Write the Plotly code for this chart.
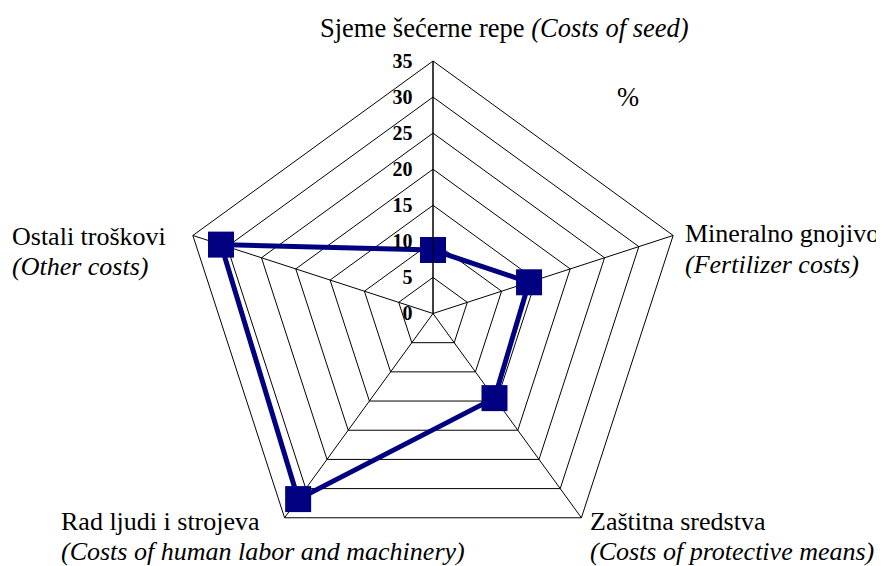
import plotly.graph_objects as go

categories = ["Sjeme šećerne repe", "Mineralno gnojivo", "Zaštitna sredstva",
              "Rad ljudi i strojeva", "Ostali troškovi"]
values = [8.8, 14.0, 14.5, 31.8, 30.9]
tick_vals = [0, 5, 10, 15, 20, 25, 30, 35]
tick_text = ["0", "5", "10", "15", "20", "25", "30", "35"]

# page has an 8px body margin, so the figure is sized to fit the 884x566 window
W, H = 876, 558
FONT = "Liberation Serif, Times New Roman, serif"

fig = go.Figure()
fig.add_trace(go.Scatterpolar(
    r=values + values[:1],
    theta=categories + categories[:1],
    mode="lines+markers",
    line=dict(color="#000080", width=5),
    marker=dict(symbol="square", size=26, color="#000080"),
    showlegend=False,
))

fig.update_layout(
    width=W, height=H,
    margin=dict(l=0, r=0, t=0, b=0),
    paper_bgcolor="white",
    plot_bgcolor="white",
    font=dict(family=FONT, color="black"),
    polar=dict(
        domain=dict(x=[172 / W, 678 / W], y=[0, 505 / H]),
        bgcolor="white",
        gridshape="linear",
        radialaxis=dict(
            range=[0, 35], tickvals=tick_vals, ticktext=tick_text,
            angle=90, tickangle=90, side="counterclockwise",
            showline=True, linecolor="black", linewidth=1,
            gridcolor="black", gridwidth=1,
            ticks="outside", ticklen=13, tickcolor="rgba(0,0,0,0)",
            tickfont=dict(family=FONT, size=20, color="black", weight="bold"),
        ),
        angularaxis=dict(
            rotation=90, direction="clockwise",
            showticklabels=False, ticks="",
            showline=True, linecolor="black", linewidth=1,
            gridcolor="black", gridwidth=1,
        ),
    ),
)

def txt(text, x, y, size=26):
    # x, y: reference-window pixels (left edge, line centre)
    fig.add_annotation(text=text, x=(x - 10) / W, y=1 - (y - 8) / H,
                       xref="paper", yref="paper",
                       xanchor="left", yanchor="middle", showarrow=False,
                       font=dict(family=FONT, size=size, color="black"))

txt("Sjeme šećerne repe <i>(Costs of seed)</i>", 320, 28, 26.5)
txt("%", 617, 97, 26.5)
txt("Mineralno gnojivo", 685, 234)
txt("<i>(Fertilizer costs)</i>", 685, 264)
txt("Ostali troškovi", 12, 236)
txt("<i>(Other costs)</i>", 12, 266)
txt("Zaštitna sredstva", 590, 521)
txt("<i>(Costs of protective means)</i>", 590, 551)
txt("Rad ljudi i strojeva", 61, 521)
txt("<i>(Costs of human labor and machinery)</i>", 61, 551)

fig.write_html("out.html")
